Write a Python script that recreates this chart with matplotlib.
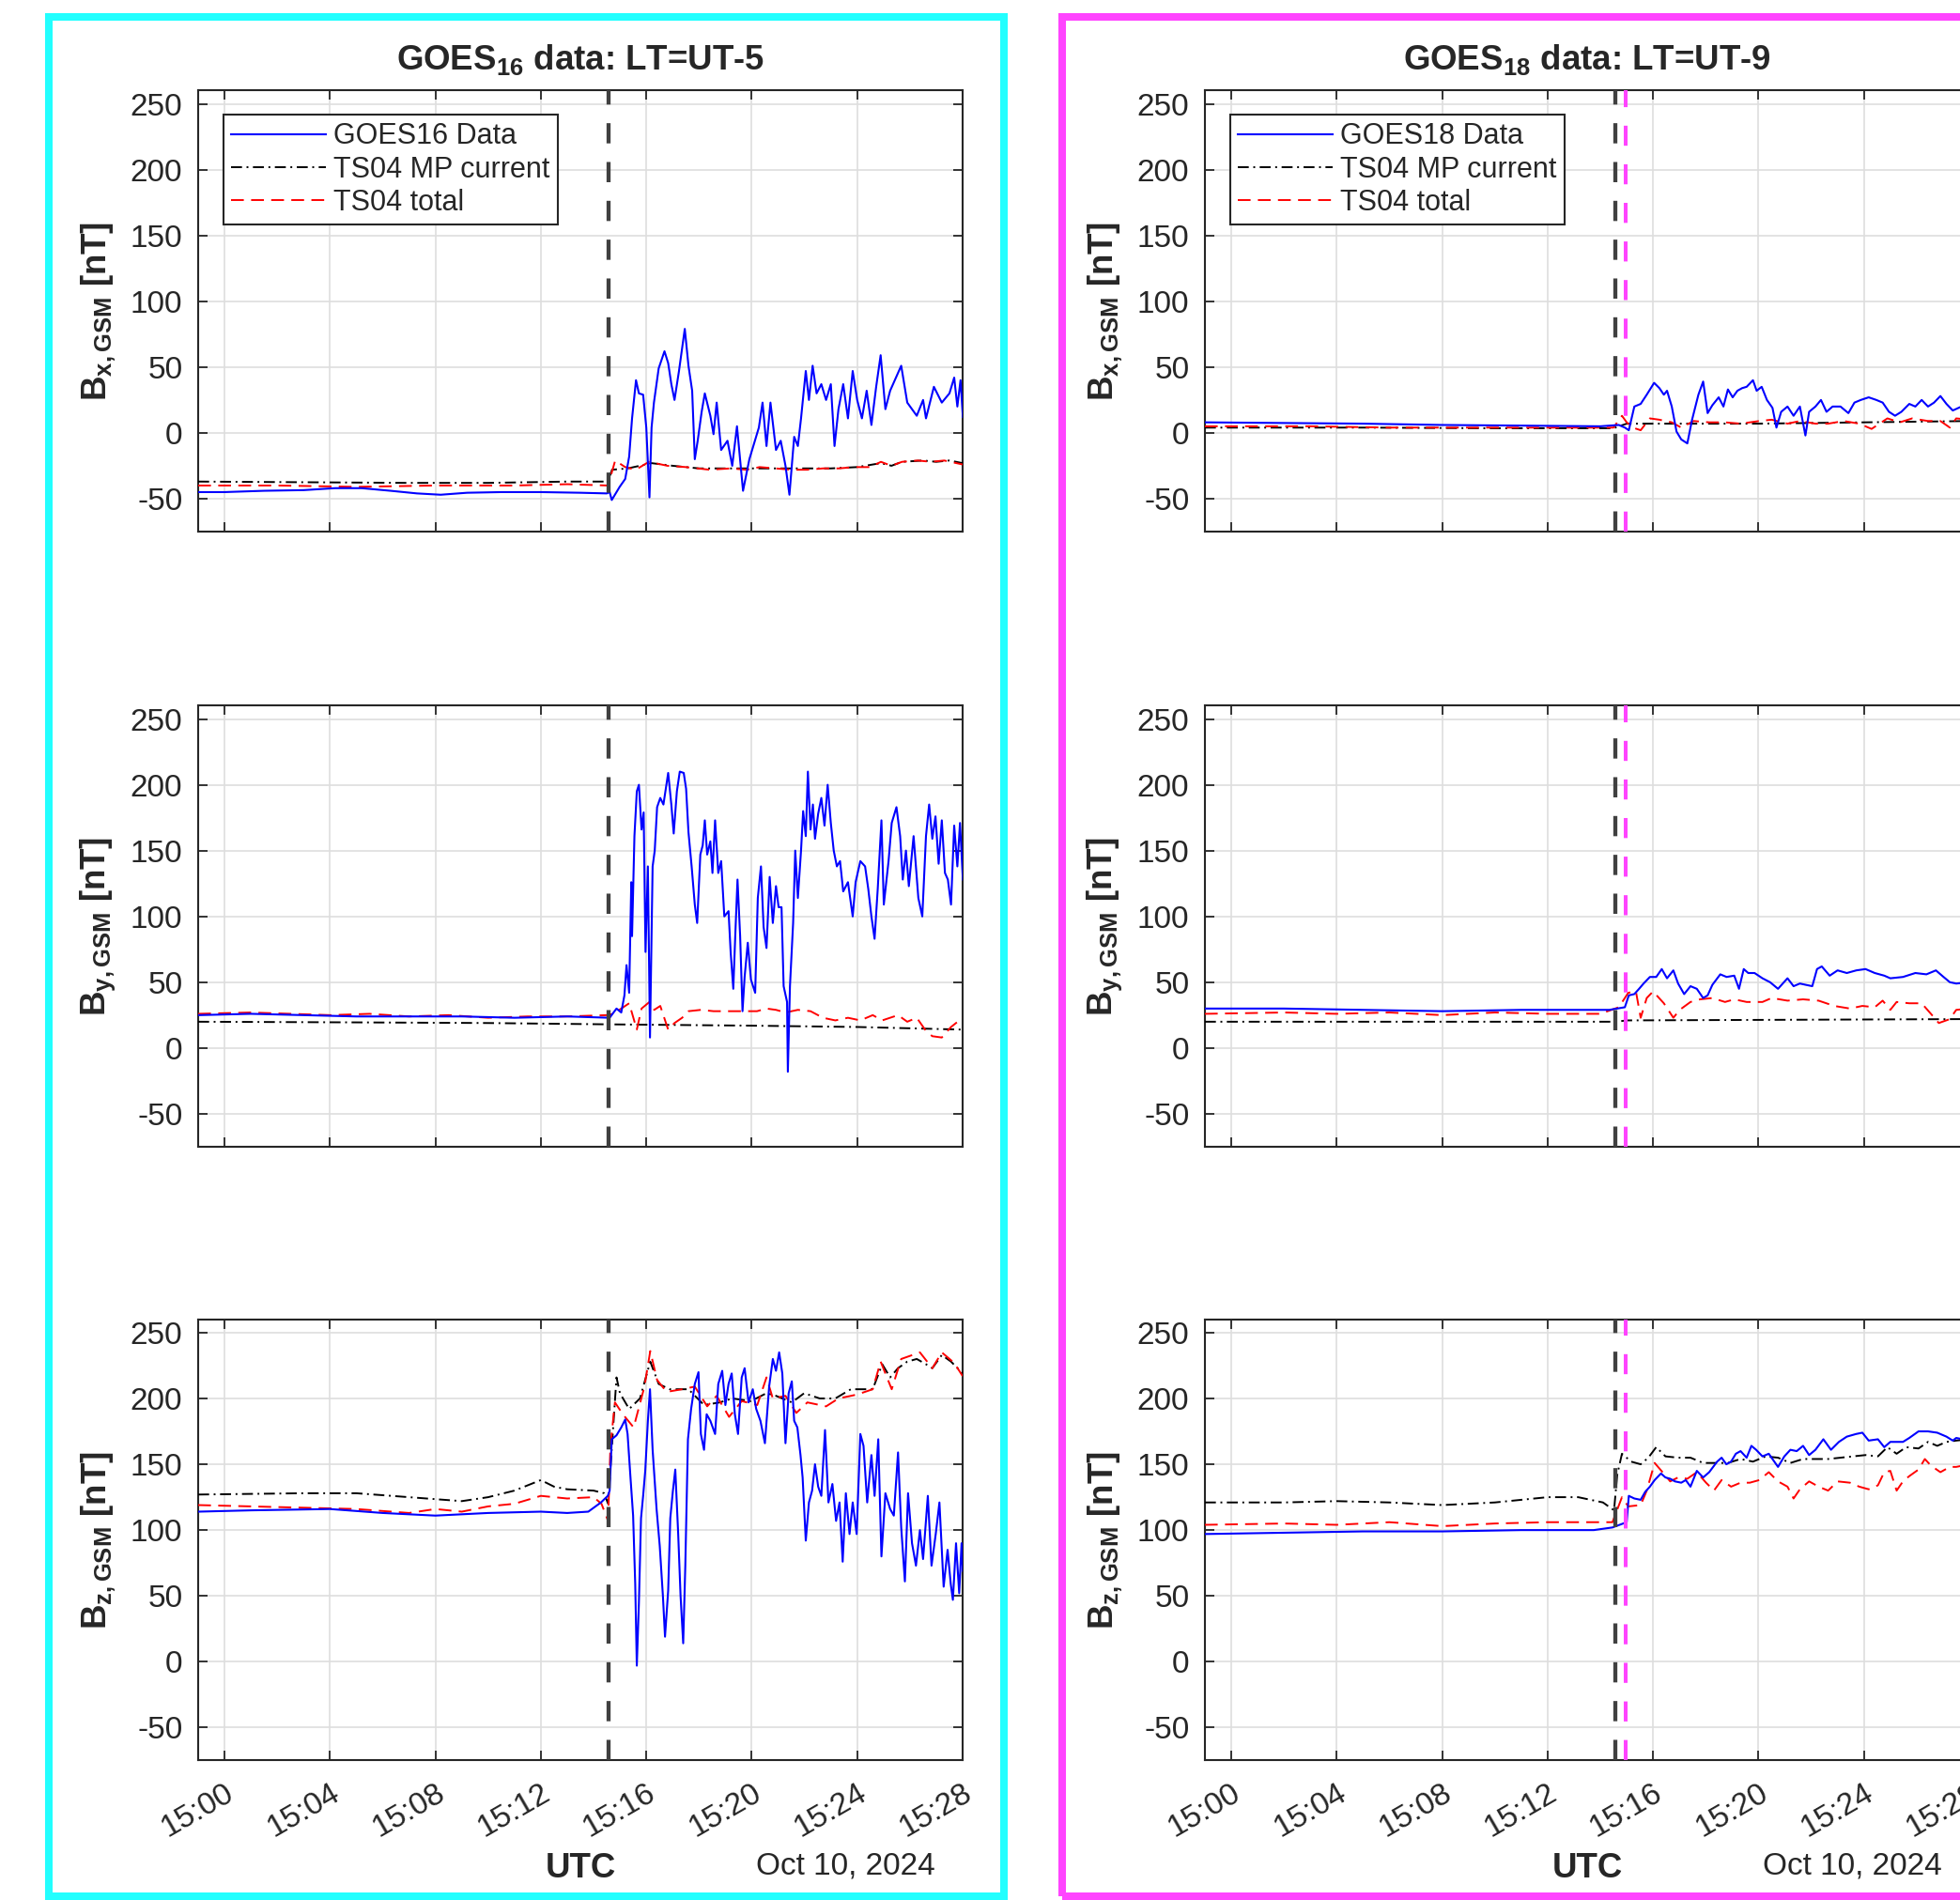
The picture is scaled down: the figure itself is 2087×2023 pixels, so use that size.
import numpy as np
import matplotlib
matplotlib.use('Agg')
import matplotlib.pyplot as plt
import matplotlib.dates as mdates
from matplotlib.patches import Rectangle

plt.rcParams['font.family'] = ['Liberation Sans', 'DejaVu Sans']
plt.rcParams['mathtext.fontset'] = 'custom'
plt.rcParams['mathtext.rm'] = 'Liberation Sans'
plt.rcParams['mathtext.bf'] = 'Liberation Sans:bold'
plt.rcParams['mathtext.it'] = 'Liberation Sans:italic'
plt.rcParams['axes.unicode_minus'] = False

# ---- data: times in minutes after 15:00 UT, 10 Oct 2024, values in nT ----
# GOES16 Bx
g16_bx_t = [-1, 0, 1.5, 3, 4.2, 5.2, 6.3, 7.3, 8.2, 9.2, 10.5, 12, 13.5, 14.5,
            14.61, 14.69, 14.99, 15.20, 15.35, 15.46, 15.61, 15.72, 15.88, 16.00, 16.12, 16.20,
            16.29, 16.47, 16.69, 16.83, 16.95, 17.07, 17.24, 17.46, 17.60, 17.74, 17.84, 17.95,
            18.10, 18.22, 18.43, 18.55, 18.67, 18.84, 19.08, 19.26, 19.44, 19.67, 19.91, 20.27,
            20.41, 20.56, 20.71, 20.92, 21.10, 21.28, 21.43, 21.61, 21.75, 21.87, 22.05, 22.17,
            22.31, 22.46, 22.64, 22.82, 23.00, 23.14, 23.29, 23.47, 23.65, 23.83, 24.00, 24.18,
            24.36, 24.54, 24.72, 24.89, 25.07, 25.25, 25.67, 25.90, 26.26, 26.50, 26.61, 26.91,
            27.21, 27.50, 27.68, 27.80, 27.92, 28.01]
g16_bx = [-45, -45, -44, -43.5, -42, -42, -44, -46, -47, -45.5, -45, -45, -45.5, -46,
          -45, -51, -41, -35, -18, 11, 40, 30, 29, 4, -49, 4,
          23, 49, 62, 53, 37, 25, 47, 79, 51, 32, -20, -6,
          16, 30, 13, -1, 23, -13, -6, -25, 5, -44, -20, 4,
          23, -10, 23, -13, -6, -25, -47, -3, -10, 11, 47, 25,
          51, 30, 37, 25, 37, -10, 18, 37, 11, 47, 25, 11,
          32, 6, 35, 59, 18, 32, 51, 23, 13, 25, 11, 35,
          23, 30, 42, 20, 40, 12]
g16_bx_mp_t = [-1, 3, 7, 10, 13, 14.55, 14.7, 15.3, 16.2, 17, 18, 19, 20, 21, 22, 23, 24,
               24.9, 25.3, 25.7, 26.5, 27, 27.5, 28]
g16_bx_mp = [-37, -37.5, -38, -38, -37, -37, -28, -27, -23, -25, -27, -27, -27, -27, -27, -27, -26,
             -23, -25, -22, -21, -22, -21, -23]
g16_bx_tot_t = [-1, 2, 5, 8, 11, 13, 14.55, 14.82, 15.2, 15.6, 16.1, 16.8, 17.5, 18.4, 19.2, 19.8,
                20.3, 20.9, 21.5, 22.1, 22.7, 23.3, 23.9, 24.5, 24.9, 25.3, 25.7, 26.3, 26.8, 27.3, 28]
g16_bx_tot = [-40, -40, -41, -40, -40, -39, -40, -21, -26, -28, -22, -25, -26, -28, -27, -28,
              -26, -27, -28, -28, -27, -27, -26, -26, -22, -25, -22, -21, -22, -21, -24]

# GOES16 By
g16_by_t = [-1, 1, 3, 5, 7, 9, 11, 13, 14.5,
            14.61, 14.87, 15.05, 15.17, 15.25, 15.35, 15.43, 15.46, 15.55, 15.64, 15.72, 15.82,
            15.90, 15.97, 16.06, 16.14, 16.24, 16.32, 16.41, 16.53, 16.65, 16.83, 16.95, 17.04,
            17.16, 17.27, 17.42, 17.51, 17.60, 17.72, 17.84, 17.93, 18.05, 18.14, 18.22, 18.31,
            18.43, 18.51, 18.61, 18.73, 18.84, 18.96, 19.12, 19.20, 19.30, 19.38, 19.46, 19.56,
            19.65, 19.73, 19.85, 19.97, 20.13, 20.23, 20.35, 20.45, 20.56, 20.68, 20.80, 20.92,
            21.02, 21.13, 21.21, 21.34, 21.37, 21.45, 21.57, 21.65, 21.75, 21.87, 21.95, 22.05,
            22.13, 22.23, 22.32, 22.40, 22.52, 22.64, 22.76, 22.88, 23.00, 23.11, 23.23, 23.35,
            23.47, 23.65, 23.83, 23.94, 24.12, 24.30, 24.42, 24.54, 24.66, 24.78, 24.92, 25.01,
            25.19, 25.31, 25.49, 25.63, 25.73, 25.85, 25.96, 26.14, 26.32, 26.47, 26.61, 26.73,
            26.85, 26.97, 27.09, 27.21, 27.33, 27.44, 27.56, 27.68, 27.80, 27.90, 28.01]
g16_by = [25, 26, 25, 24, 24, 24, 23, 24, 23,
          23, 30, 27, 40, 63, 42, 126, 85, 161, 195, 200, 166,
          179, 73, 138, 8, 138, 150, 183, 190, 185, 209, 185, 163,
          195, 210, 209, 197, 164, 138, 109, 95, 147, 154, 173, 147,
          157, 133, 173, 133, 142, 100, 104, 73, 45, 88, 128, 85,
          28, 54, 80, 52, 42, 114, 138, 92, 76, 130, 95, 123,
          107, 107, 47, 35, -18, 47, 95, 150, 114, 150, 180, 161,
          210, 166, 185, 159, 178, 190, 169, 200, 171, 150, 138, 142,
          119, 126, 100, 126, 142, 138, 121, 100, 83, 121, 173, 109,
          142, 171, 183, 161, 128, 150, 123, 161, 114, 100, 161, 185,
          159, 176, 140, 173, 133, 128, 109, 169, 138, 171, 128]
g16_by_mp_t = [-1, 5, 10, 14.6, 20, 24, 28]
g16_by_mp = [20, 19.5, 19, 18, 17, 16, 14]
g16_by_tot_t = [-1, 1, 2.5, 4, 5.5, 7, 8.5, 10, 11.5, 13, 14.5,
                14.75, 15.35, 15.64, 15.82, 16.12, 16.3, 16.53, 16.83, 17.07, 17.36, 17.6, 18.07,
                18.55, 19.14, 19.73, 20.2, 20.56, 20.92, 21.28, 21.75, 22.23, 22.7, 23.17, 23.65,
                24.12, 24.59, 24.95, 25.55, 25.9, 26.26, 26.61, 26.85, 27.21, 27.56, 28]
g16_by_tot = [26, 27, 26, 25, 26, 24, 25, 23, 24, 24, 25,
              26, 34, 14, 30, 35, 29, 32, 14, 19, 23, 28, 29,
              28, 28, 28, 28, 30, 29, 27, 29, 28, 23, 21, 23,
              21, 25, 21, 25, 20, 23, 13, 9, 8, 16, 23]

# GOES16 Bz
g16_bz_t = [-1, 1, 4, 6, 8, 10, 12, 13, 13.8, 14.28, 14.54,
            14.61, 14.69, 14.87, 15.05, 15.20, 15.29, 15.40, 15.50, 15.58, 15.64, 15.72, 15.80,
            15.88, 15.96, 16.06, 16.14, 16.24, 16.39, 16.51, 16.63, 16.71, 16.83, 16.91, 17.01,
            17.10, 17.21, 17.30, 17.40, 17.48, 17.58, 17.70, 17.84, 17.98, 18.07, 18.19, 18.29,
            18.43, 18.61, 18.73, 18.88, 19.00, 19.12, 19.24, 19.36, 19.48, 19.62, 19.73, 19.88,
            20.04, 20.17, 20.33, 20.50, 20.66, 20.80, 20.92, 21.04, 21.16, 21.28, 21.40, 21.52,
            21.61, 21.73, 21.85, 21.93, 22.05, 22.17, 22.29, 22.40, 22.52, 22.64, 22.78, 22.91,
            23.06, 23.20, 23.33, 23.45, 23.57, 23.71, 23.83, 23.98, 24.12, 24.24, 24.38, 24.54,
            24.66, 24.80, 24.92, 25.07, 25.25, 25.39, 25.55, 25.67, 25.81, 25.93, 26.08, 26.23,
            26.38, 26.50, 26.68, 26.82, 26.98, 27.12, 27.28, 27.43, 27.55, 27.63, 27.75, 27.87,
            27.96, 28.01]
g16_bz = [114, 115, 116, 113, 111, 113, 114, 113, 114, 121, 126,
          130, 169, 172, 178, 184, 173, 140, 111, 59, -3, 45, 109,
          126, 145, 183, 207, 161, 116, 88, 50, 19, 54, 109, 130,
          146, 97, 50, 14, 73, 169, 192, 211, 220, 173, 161, 188,
          183, 173, 211, 221, 195, 211, 219, 188, 173, 216, 223, 197,
          207, 192, 183, 166, 209, 230, 221, 235, 219, 166, 204, 213,
          183, 178, 157, 140, 92, 121, 130, 150, 133, 126, 176, 121,
          135, 107, 121, 76, 128, 97, 121, 97, 173, 164, 121, 157,
          126, 169, 80, 128, 116, 111, 159, 102, 61, 128, 90, 73,
          100, 78, 126, 73, 97, 121, 57, 85, 59, 47, 90, 52,
          90, 69]
g16_bz_mp_t = [-1, 3, 5, 7, 9, 10, 11, 12, 12.5, 13, 14, 14.4, 14.55,
               14.87, 15.0, 15.35, 15.76, 16.15, 16.47, 16.89, 17.6, 18.19, 18.79, 19.26, 19.97,
               20.56, 20.92, 21.52, 21.99, 22.58, 23.17, 23.76, 24.24, 24.59, 24.95, 25.25, 25.55,
               25.9, 26.26, 26.61, 26.85, 27.21, 27.56, 28]
g16_bz_mp = [127, 128, 128, 125, 122, 125, 130, 138, 133, 131, 130, 128, 120,
             216, 204, 192, 200, 228, 211, 207, 207, 195, 197, 200, 198,
             204, 202, 197, 204, 200, 200, 207, 207, 207, 226, 216, 223,
             228, 230, 226, 223, 233, 228, 219]
g16_bz_tot_t = [-1, 3, 5, 7, 8, 9, 10, 11, 12, 13, 14, 14.3, 14.55,
                14.64, 14.81, 15.11, 15.52, 15.93, 16.15, 16.41, 16.77, 17.36, 17.84, 18.31, 18.67,
                19.14, 19.62, 20.21, 20.56, 20.8, 21.28, 21.69, 22.11, 22.82, 23.29, 24.0, 24.59,
                24.89, 25.31, 25.67, 26.38, 26.85, 27.21, 27.68, 28]
g16_bz_tot = [119, 117, 116, 113, 116, 114, 118, 120, 126, 124, 125, 120, 107,
              164, 197, 188, 178, 209, 236, 214, 205, 207, 209, 194, 202,
              186, 198, 195, 216, 200, 202, 189, 197, 194, 200, 203, 207,
              228, 207, 230, 235, 223, 235, 227, 217]

# GOES18 Bx
g18_bx_t = [-1, 2, 5, 8, 11, 14, 14.7,
            14.93, 15.08, 15.29, 15.53, 15.76, 16.04, 16.24, 16.41, 16.53, 16.71, 16.89, 17.07,
            17.30, 17.48, 17.72, 17.90, 18.07, 18.25, 18.49, 18.67, 18.84, 19.02, 19.20, 19.38,
            19.55, 19.79, 19.93, 20.12, 20.32, 20.53, 20.68, 20.86, 21.10, 21.33, 21.57, 21.78,
            21.92, 22.16, 22.37, 22.58, 22.81, 23.11, 23.41, 23.64, 23.88, 24.18, 24.47, 24.71,
            24.95, 25.18, 25.42, 25.72, 25.95, 26.19, 26.43, 26.66, 26.90, 27.13, 27.37, 27.7, 28]
g18_bx = [8, 7.5, 7, 6, 5.5, 5, 6,
          4, 2, 20, 22, 29, 38, 34, 29, 32, 20, 1, -5,
          -8, 10, 29, 39, 15, 21, 27, 20, 33, 27, 32, 34,
          35, 40, 32, 35, 25, 19, 4, 16, 20, 13, 20, -2,
          16, 20, 25, 16, 20, 20, 15, 23, 25, 27, 25, 23,
          16, 13, 16, 22, 20, 25, 20, 23, 28, 22, 17, 20, 22]
g18_bx_mp_t = [-1, 5, 10, 14.5, 15, 16, 20, 24, 28]
g18_bx_mp = [4, 4, 3.5, 3.5, 7, 7, 7, 8, 9]
g18_bx_tot_t = [-1, 3, 6, 9, 12, 14.5,
                14.82, 15.0, 15.23, 15.53, 15.88, 16.24, 16.71, 17.07, 17.54, 18.13, 18.73, 19.32,
                20.03, 20.5, 21.1, 21.57, 22.16, 22.64, 23.23, 23.82, 24.29, 24.89, 25.36, 25.83,
                26.43, 26.9, 27.26, 27.5, 28]
g18_bx_tot = [5, 5, 4, 4, 4, 4,
              13, 8, 4, 2, 11, 10, 8, 4, 9, 8, 8, 7,
              9, 10, 7, 9, 7, 7, 9, 7, 3, 11, 8, 11,
              9, 9, 4, 11, 10]

# GOES18 By
g18_by_t = [-1, 2, 5, 8, 11, 14.34,
            14.93, 15.08, 15.29, 15.47, 15.64, 15.88, 16.12, 16.33, 16.53, 16.77, 16.95, 17.18,
            17.42, 17.66, 17.90, 18.07, 18.25, 18.55, 18.79, 19.08, 19.26, 19.44, 19.61, 19.85,
            20.15, 20.44, 20.74, 21.10, 21.33, 21.57, 21.80, 22.04, 22.22, 22.40, 22.70, 23.00,
            23.35, 23.71, 24.06, 24.41, 24.77, 25.00, 25.48, 25.95, 26.37, 26.73, 27.02, 27.26,
            27.5, 28]
g18_by = [30, 30, 29, 28, 29, 29,
          31, 40, 41, 45, 49, 54, 54, 60, 53, 59, 49, 41,
          47, 45, 38, 40, 48, 56, 54, 55, 45, 60, 57, 57,
          53, 50, 45, 53, 47, 49, 48, 47, 60, 62, 55, 59,
          57, 59, 60, 57, 55, 53, 54, 57, 56, 59, 54, 50,
          49, 50]
g18_by_mp_t = [-1, 14.6, 15, 28]
g18_by_mp = [20, 20, 21, 22]
g18_by_tot_t = [-1, 2, 4, 6, 8, 10, 12, 14, 14.7,
                15.06, 15.35, 15.53, 15.76, 16.0, 16.41, 16.77, 17.01, 17.42, 17.78, 18.25, 18.73,
                19.08, 19.55, 20.15, 20.5, 21.1, 21.69, 22.28, 22.87, 23.47, 23.94, 24.41, 24.71,
                25.0, 25.24, 25.72, 26.19, 26.54, 26.84, 27.26, 27.5, 28]
g18_by_tot = [26, 27, 26, 27, 25, 27, 26, 26, 31,
              42, 43, 23, 38, 43, 34, 23, 29, 35, 37, 38, 35,
              37, 35, 35, 38, 36, 37, 36, 32, 30, 32, 31, 36,
              29, 35, 34, 34, 26, 19, 22, 29, 30]

# GOES18 Bz
g18_bz_t = [-1, 2, 5, 8, 11, 13.75, 14.46,
            15.0, 15.08, 15.29, 15.53, 15.70, 15.88, 16.06, 16.30, 16.47, 16.65, 16.83, 17.07,
            17.24, 17.42, 17.66, 17.90, 18.13, 18.43, 18.60, 18.78, 18.96, 19.14, 19.32, 19.55,
            19.73, 19.91, 20.15, 20.39, 20.74, 20.98, 21.21, 21.45, 21.69, 21.92, 22.16, 22.46,
            22.75, 23.05, 23.35, 23.70, 23.94, 24.18, 24.53, 24.77, 25.00, 25.48, 25.72, 26.07,
            26.43, 26.78, 27.13, 27.37, 27.5, 28]
g18_bz = [97, 98, 99, 99, 100, 100, 102,
          106, 126, 124, 123, 129, 133, 138, 143, 140, 139, 137, 136,
          138, 133, 145, 140, 144, 152, 155, 150, 152, 158, 160, 155,
          164, 161, 156, 158, 148, 156, 161, 160, 164, 157, 161, 169,
          161, 167, 171, 173, 174, 168, 169, 163, 167, 167, 170, 175,
          175, 174, 171, 168, 170, 168]
g18_bz_mp_t = [-1, 2, 4, 6, 8, 10, 12, 13.16, 14.1, 14.52,
               14.64, 14.82, 15.17, 15.53, 15.82, 16.12, 16.47, 16.95, 17.42, 17.9, 18.37, 18.84,
               19.32, 19.79, 20.27, 20.74, 21.21, 21.69, 22.16, 22.64, 23.11, 23.58, 24.06, 24.53,
               24.89, 25.24, 25.6, 26.07, 26.43, 26.78, 27.13, 27.5, 28]
g18_bz_mp = [121, 121, 122, 121, 119, 121, 125, 125, 121, 115,
             142, 158, 152, 150, 155, 163, 156, 155, 155, 151, 151, 151,
             154, 152, 156, 155, 151, 154, 154, 154, 155, 156, 157, 156,
             163, 158, 163, 162, 167, 164, 167, 168, 169]
g18_bz_tot_t = [-1, 2, 4, 6, 8, 10, 12, 13.5, 14.46,
                14.82, 15.06, 15.53, 15.76, 16.06, 16.36, 16.65, 16.95, 17.3, 17.66, 18.01, 18.31,
                18.6, 18.96, 19.32, 19.67, 20.03, 20.39, 20.74, 21.1, 21.33, 21.57, 21.92, 22.28,
                22.64, 23.0, 23.47, 23.82, 24.18, 24.53, 24.77, 25.0, 25.24, 25.48, 25.72, 26.07,
                26.31, 26.54, 26.9, 27.26, 27.5, 28]
g18_bz_tot = [104, 105, 104, 106, 103, 105, 106, 106, 106,
              125, 118, 119, 130, 151, 144, 137, 140, 139, 144, 136, 130,
              138, 133, 136, 136, 138, 144, 137, 133, 124, 131, 137, 133,
              130, 137, 136, 133, 131, 134, 144, 145, 130, 137, 141, 146,
              154, 149, 144, 148, 148, 150]

onset_min = 14.58      # black dashed line
onset18_min = 14.97    # magenta dashed line (GOES18)

panels = [
    ('16', 'LT=UT-5', [(g16_bx_t, g16_bx, g16_bx_mp_t, g16_bx_mp, g16_bx_tot_t, g16_bx_tot),
                       (g16_by_t, g16_by, g16_by_mp_t, g16_by_mp, g16_by_tot_t, g16_by_tot),
                       (g16_bz_t, g16_bz, g16_bz_mp_t, g16_bz_mp, g16_bz_tot_t, g16_bz_tot)]),
    ('18', 'LT=UT-9', [(g18_bx_t, g18_bx, g18_bx_mp_t, g18_bx_mp, g18_bx_tot_t, g18_bx_tot),
                       (g18_by_t, g18_by, g18_by_mp_t, g18_by_mp, g18_by_tot_t, g18_by_tot),
                       (g18_bz_t, g18_bz, g18_bz_mp_t, g18_bz_mp, g18_bz_tot_t, g18_bz_tot)]),
]
comp_names = ['x', 'y', 'z']

T0 = np.datetime64('2024-10-10T15:00:00')


def to_time(m):
    m = np.asarray(m, dtype=float)
    return T0 + np.round(m * 60000).astype(np.int64).astype('timedelta64[ms]')


W, H = 2087, 2023
fig = plt.figure(figsize=(W / 100, H / 100), dpi=100)

# coloured frames around each satellite block
fig.add_artist(Rectangle((52 / W, 1 - 2019 / H), (1069 - 52) / W, (2019 - 18) / H,
                         transform=fig.transFigure, fill=False, ec='#22ffff', lw=5.8))
fig.add_artist(Rectangle((1131 / W, 1 - 2019 / H), 0.6, (2019 - 18) / H,
                         transform=fig.transFigure, fill=False, ec='#ff44ff', lw=5.8))

ax_left = [211 / W, 1283 / W]
ax_w = 814 / W
ax_h = 469.5 / H
ax_bottoms = [1 - 566 / H, 1 - 1221 / H, 1 - 1874.4 / H]
txt = '#262626'

for col, (sat, lt, comps) in enumerate(panels):
    for row in range(3):
        ax = fig.add_axes([ax_left[col], ax_bottoms[row], ax_w, ax_h])
        t_b, v_b, t_mp, v_mp, t_tot, v_tot = comps[row]
        h1, = ax.plot(to_time(t_b), v_b, color=(0, 0, 1), lw=1.5, zorder=4,
                      label='GOES%s Data' % sat)
        h2, = ax.plot(to_time(t_mp), v_mp, color='k', lw=1.4, dashes=(6, 2.5, 1, 2.5),
                      zorder=3, label='TS04 MP current')
        h3, = ax.plot(to_time(t_tot), v_tot, color=(1, 0, 0), lw=1.4, dashes=(7, 4),
                      zorder=3.5, label='TS04 total')

        tl = to_time([onset_min, onset_min])
        ax.plot(tl, [-75, 260], color='#404040', lw=3.1, dashes=(5, 4.6), zorder=5)
        if sat == '18':
            tm = to_time([onset18_min, onset18_min])
            ax.plot(tm, [-75, 260], color='#ff44ff', lw=2.9, dashes=(5.3, 4.9), zorder=5)

        ax.set_ylim(-75, 260)
        ax.set_xlim(to_time(-1), to_time(28))
        ax.set_yticks([-50, 0, 50, 100, 150, 200, 250])
        ax.xaxis.set_major_locator(mdates.MinuteLocator(byminute=range(0, 60, 4)))
        ax.xaxis.set_major_formatter(mdates.DateFormatter('%H:%M'))
        ax.grid(True, color='#dedede', lw=1.2)
        ax.set_axisbelow(True)
        for s in ax.spines.values():
            s.set_color(txt)
            s.set_linewidth(1.5)
        ax.tick_params(direction='in', top=True, right=True, length=7, width=1.3,
                       color=txt, labelcolor=txt, labelsize=24)
        ax.tick_params(axis='y', pad=12)
        ax.tick_params(axis='x', pad=14, rotation=30)
        for lab in ax.get_xticklabels():
            lab.set_horizontalalignment('right')
            lab.set_rotation_mode('anchor')
        if row < 2:
            ax.tick_params(axis='x', labelbottom=False)

        ax.set_ylabel(r'$\mathbf{B_{%s,GSM}}$ [nT]' % comp_names[row], fontsize=26.4,
                      fontweight='bold', color=txt, labelpad=10)

        if row == 0:
            ax.set_title(r'GOES$_{\mathbf{%s}}$ data: %s' % (sat, lt), fontsize=26.4,
                         fontweight='bold', color=txt, pad=16)
            leg = ax.legend(handles=[h1, h2, h3], loc='upper left',
                            bbox_to_anchor=(0.033, 0.946), borderaxespad=0,
                            fontsize=22, fancybox=False, framealpha=1,
                            edgecolor=txt, handlelength=3.3, handletextpad=0.25,
                            labelspacing=0.17, borderpad=0.28)
            leg.get_frame().set_linewidth(1.5)
            for t in leg.get_texts():
                t.set_color(txt)
        if row == 2:
            ax.text(0.5, -0.245, 'UTC', transform=ax.transAxes, ha='center', va='center',
                    fontsize=26.4, fontweight='bold', color=txt)
            ax.text(0.964, -0.24, 'Oct 10, 2024', transform=ax.transAxes, ha='right',
                    va='center', fontsize=24, color=txt)

fig.savefig('out.png', dpi=100)
